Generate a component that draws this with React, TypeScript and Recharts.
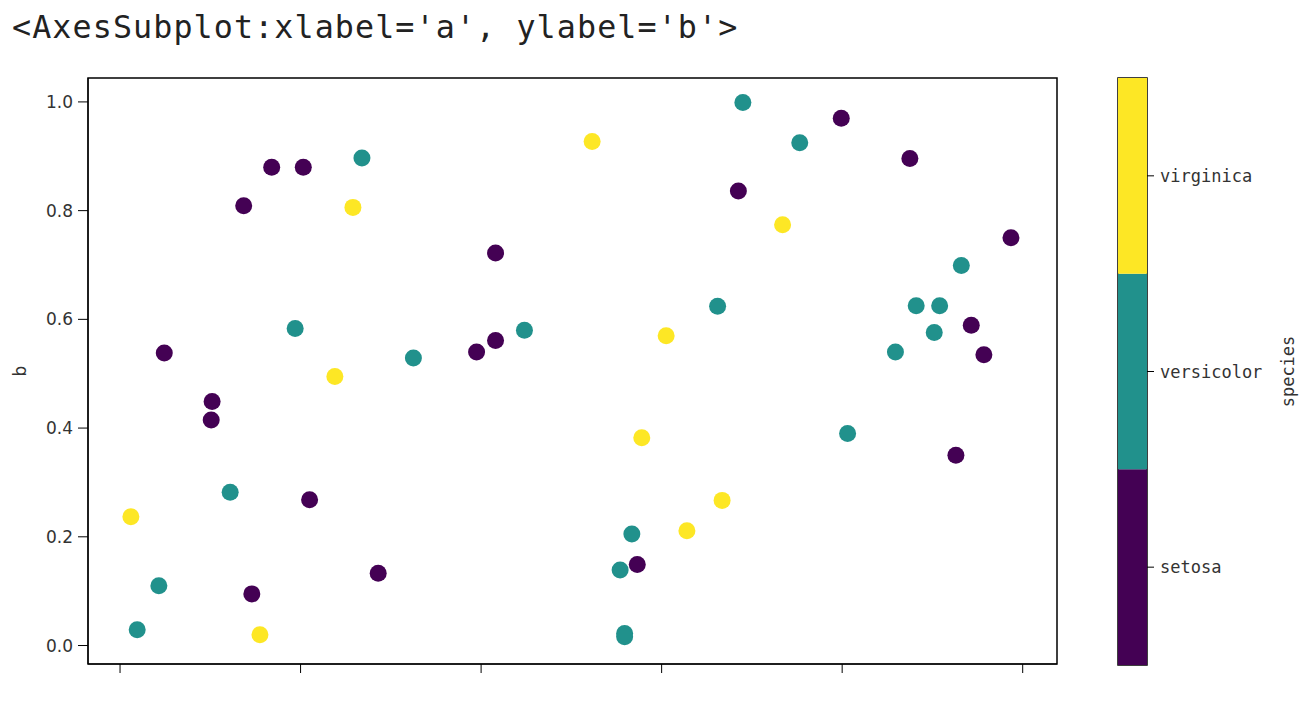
import React from "react";
import {
  Bar,
  BarChart,
  ReferenceArea,
  Scatter,
  ScatterChart,
  XAxis,
  YAxis,
} from "recharts";

// values (a on x, b on y)
const setosaA = [
  0.049, 0.102, 0.101, 0.137, 0.168, 0.203, 0.146, 0.21, 0.286, 0.416, 0.395,
  0.416, 0.573, 0.685, 0.799, 0.875, 0.987, 0.943, 0.957, 0.926,
];
const setosaB = [
  0.538, 0.449, 0.415, 0.809, 0.88, 0.88, 0.095, 0.268, 0.133, 0.722, 0.54,
  0.561, 0.149, 0.836, 0.97, 0.896, 0.75, 0.589, 0.535, 0.35,
];
const versicolorA = [
  0.019, 0.043, 0.122, 0.194, 0.268, 0.325, 0.448, 0.554, 0.567, 0.559, 0.559,
  0.662, 0.69, 0.753, 0.806, 0.859, 0.882, 0.908, 0.902, 0.932,
];
const versicolorB = [
  0.029, 0.11, 0.282, 0.583, 0.897, 0.529, 0.58, 0.139, 0.205, 0.022, 0.016,
  0.624, 0.999, 0.925, 0.39, 0.54, 0.625, 0.625, 0.576, 0.699,
];
const virginicaA = [
  0.012, 0.155, 0.238, 0.258, 0.523, 0.605, 0.578, 0.628, 0.667, 0.734,
];
const virginicaB = [
  0.237, 0.02, 0.495, 0.806, 0.927, 0.57, 0.382, 0.211, 0.267, 0.774,
];

const speciesNames = ["setosa", "versicolor", "virginica"];
const speciesColors = ["#440154", "#21918c", "#fde725"];
const colorbarSpan = [1, 1, 1];
const axisTicks = [0, 0.2, 0.4, 0.6, 0.8, 1.0];

const toPoints = (a: number[], b: number[]) => a.map((x, i) => ({ a: x, b: b[i] }));

const series = [
  toPoints(setosaA, setosaB),
  toPoints(versicolorA, versicolorB),
  toPoints(virginicaA, virginicaB),
];

const X_DOMAIN: [number, number] = [-0.0355, 1.038];
const Y_DOMAIN: [number, number] = [-0.034, 1.044];

const tickFont = { fontFamily: "DejaVu Sans", fontSize: 17, fill: "#333" };
const monoFont = { fontFamily: "DejaVu Sans Mono", fontSize: 17, fill: "#333" };

const dot = (color: string) => (props: any) =>
  <circle cx={props.cx} cy={props.cy} r={8.5} fill={color} />;

export default function App() {
  const colorbarData = [
    speciesNames.reduce(
      (acc, name, i) => ({ ...acc, [name]: colorbarSpan[i] }),
      { k: "cb" } as Record<string, any>
    ),
  ];

  return (
    <div
      style={{
        position: "absolute",
        left: 0,
        top: 0,
        width: 1310,
        height: 704,
        background: "#fff",
        overflow: "hidden",
      }}
    >
      <div
        style={{
          position: "absolute",
          left: 12,
          top: 11,
          fontFamily: "DejaVu Sans Mono",
          fontSize: 31.7,
          letterSpacing: 1.1,
          lineHeight: "32px",
          color: "#222",
          whiteSpace: "pre",
        }}
      >
        {"<AxesSubplot:xlabel='a', ylabel='b'>"}
      </div>

      <div style={{ position: "absolute", left: 0, top: 0 }}>
        <ScatterChart
          width={1310}
          height={704}
          margin={{ top: 78, right: 253, bottom: 10, left: 0 }}
        >
          <XAxis
            type="number"
            dataKey="a"
            domain={X_DOMAIN}
            ticks={axisTicks}
            allowDataOverflow
            height={30}
            tickSize={9}
            tickFormatter={() => ""}
            stroke="#000"
          />
          <YAxis
            type="number"
            dataKey="b"
            domain={Y_DOMAIN}
            ticks={axisTicks}
            allowDataOverflow
            width={88}
            tickSize={10}
            tickMargin={5}
            tick={tickFont}
            tickFormatter={(v: number) => v.toFixed(1)}
            stroke="#000"
            label={{
              value: "b",
              angle: -90,
              position: "insideLeft",
              offset: 20,
              style: { ...tickFont, textAnchor: "middle" },
            }}
          />
          <ReferenceArea
            x1={X_DOMAIN[0]}
            x2={X_DOMAIN[1]}
            y1={Y_DOMAIN[0]}
            y2={Y_DOMAIN[1]}
            fill="none"
            stroke="#000"
            strokeWidth={1.5}
            ifOverflow="visible"
          />
          {series.map((pts, i) => (
            <Scatter
              key={speciesNames[i]}
              name={speciesNames[i]}
              data={pts}
              shape={dot(speciesColors[i])}
              isAnimationActive={false}
            />
          ))}
        </ScatterChart>
      </div>

      <div style={{ position: "absolute", left: 0, top: 0 }}>
        <BarChart
          width={1310}
          height={704}
          data={colorbarData}
          barCategoryGap={0}
          margin={{ top: 78, right: 0, bottom: 39, left: 1118 }}
        >
          <XAxis dataKey="k" hide />
          <YAxis
            orientation="right"
            type="number"
            domain={[0, 3]}
            ticks={[0.5, 1.5, 2.5]}
            width={163}
            axisLine={false}
            tickSize={7}
            tickMargin={6}
            stroke="#000"
            tick={monoFont}
            tickFormatter={(v: number) => speciesNames[Math.floor(v)]}
            label={{
              value: "species",
              angle: -90,
              position: "insideRight",
              offset: 22,
              style: { ...monoFont, textAnchor: "middle" },
            }}
          />
          {speciesNames.map((name, i) => (
            <Bar
              key={name}
              dataKey={name}
              stackId="cb"
              fill={speciesColors[i]}
              isAnimationActive={false}
            />
          ))}
          <ReferenceArea
            y1={0}
            y2={3}
            fill="none"
            stroke="#000"
            strokeWidth={1.5}
            ifOverflow="visible"
          />
        </BarChart>
      </div>
    </div>
  );
}
